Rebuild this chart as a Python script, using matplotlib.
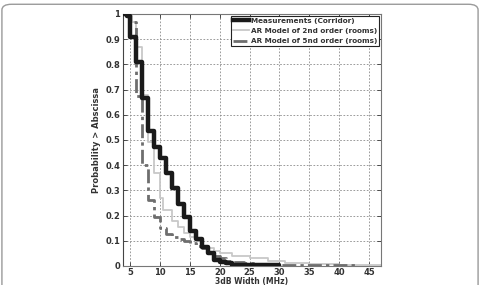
import matplotlib.pyplot as plt
import numpy as np
from matplotlib.patches import FancyBboxPatch

# step edges (MHz) and probability values
meas_x = [4, 4.5, 5, 6, 7, 8, 9, 10, 11, 12, 13, 14, 15, 16, 17, 18, 19,
          20, 21, 22, 24, 30]
meas_y = [1.0, 0.99, 0.91, 0.81, 0.665, 0.535, 0.47, 0.43, 0.37, 0.31,
          0.245, 0.195, 0.14, 0.105, 0.075, 0.05, 0.025, 0.015, 0.01,
          0.005, 0.002, 0.0]

ar2_x = [4, 5.3, 6, 7, 8, 9, 10, 10.5, 12, 13, 14, 15, 16, 17, 18, 19, 20,
         22, 25, 28, 31, 35, 40, 47]
ar2_y = [1.0, 0.97, 0.87, 0.68, 0.49, 0.37, 0.27, 0.22, 0.18, 0.155, 0.13,
         0.115, 0.10, 0.08, 0.07, 0.06, 0.05, 0.04, 0.03, 0.02, 0.013,
         0.008, 0.004, 0.003]

ar5_x = [4, 5, 6, 7, 8, 9, 10, 11, 12, 13, 14, 15, 16, 17, 18, 19, 20, 21,
         22, 24, 26, 30, 35, 43]
ar5_y = [1.0, 0.97, 0.675, 0.40, 0.26, 0.195, 0.15, 0.125, 0.115, 0.105,
         0.10, 0.09, 0.08, 0.07, 0.055, 0.04, 0.03, 0.02, 0.015, 0.01,
         0.007, 0.005, 0.003, 0.0]

labels = ["Measurements (Corridor)", "AR Model of 2nd order (rooms)",
          "AR Model of 5nd order (rooms)"]

fig = plt.figure(figsize=(4.8, 2.85), dpi=100)
# rounded frame of the original figure panel
fig.patches.append(FancyBboxPatch((0.004, -0.2), 0.992, 1.185,
                                  boxstyle="round,pad=0,rounding_size=0.02",
                                  transform=fig.transFigure, fill=False,
                                  edgecolor="#9a9a9a", linewidth=1.0))

ax = fig.add_axes([0.256, 0.067, 0.538, 0.884])
ax.step(ar5_x, ar5_y, where="post", color="#6e6e6e", lw=2.0,
        linestyle=(0, (5, 1.5, 1.2, 1.5)), label=labels[2], zorder=3)
ax.step(ar2_x, ar2_y, where="post", color="#c8c8c8", lw=1.3,
        label=labels[1], zorder=2)
ax.step(meas_x, meas_y, where="post", color="#1a1a1a", lw=3.2,
        label=labels[0], zorder=4)

ax.set_xlim(3.8, 47)
ax.set_ylim(0, 1)
ax.set_xticks(np.arange(5, 50, 5))
ax.set_yticks(np.arange(0, 1.01, 0.1))
ax.set_yticklabels(["0", "0.1", "0.2", "0.3", "0.4", "0.5", "0.6", "0.7",
                    "0.8", "0.9", "1"])
ax.tick_params(direction="in", labelsize=6, length=3, width=0.6,
               colors="#333333", pad=2, top=True, right=True)
ax.tick_params(axis="x", pad=1.5)
for t in ax.get_xticklabels() + ax.get_yticklabels():
    t.set_fontweight("bold")
ax.grid(True, linestyle=(0, (2, 2)), color="#8a8a8a", linewidth=0.6)
for s in ax.spines.values():
    s.set_color("#777777")
    s.set_linewidth(0.8)
ax.spines["left"].set_color("#444444")

ax.set_xlabel("3dB Width (MHz)", fontsize=5.5, color="#333333", labelpad=0,
              fontweight="bold")
ax.set_ylabel("Probability > Abscissa", fontsize=6, color="#333333",
              labelpad=3, fontweight="bold")

h, l = ax.get_legend_handles_labels()
order = [2, 1, 0]
leg = ax.legend([h[i] for i in order], [l[i] for i in order],
                loc="upper right", prop={"size": 5.2, "weight": "bold"},
                fancybox=False, framealpha=1, edgecolor="#222222",
                handlelength=2.2, borderpad=0.3, labelspacing=0.55,
                handletextpad=0.3, borderaxespad=0.25)
leg.get_frame().set_linewidth(0.8)
for t in leg.get_texts():
    t.set_color("#333333")

fig.savefig("out.png", dpi=100)
